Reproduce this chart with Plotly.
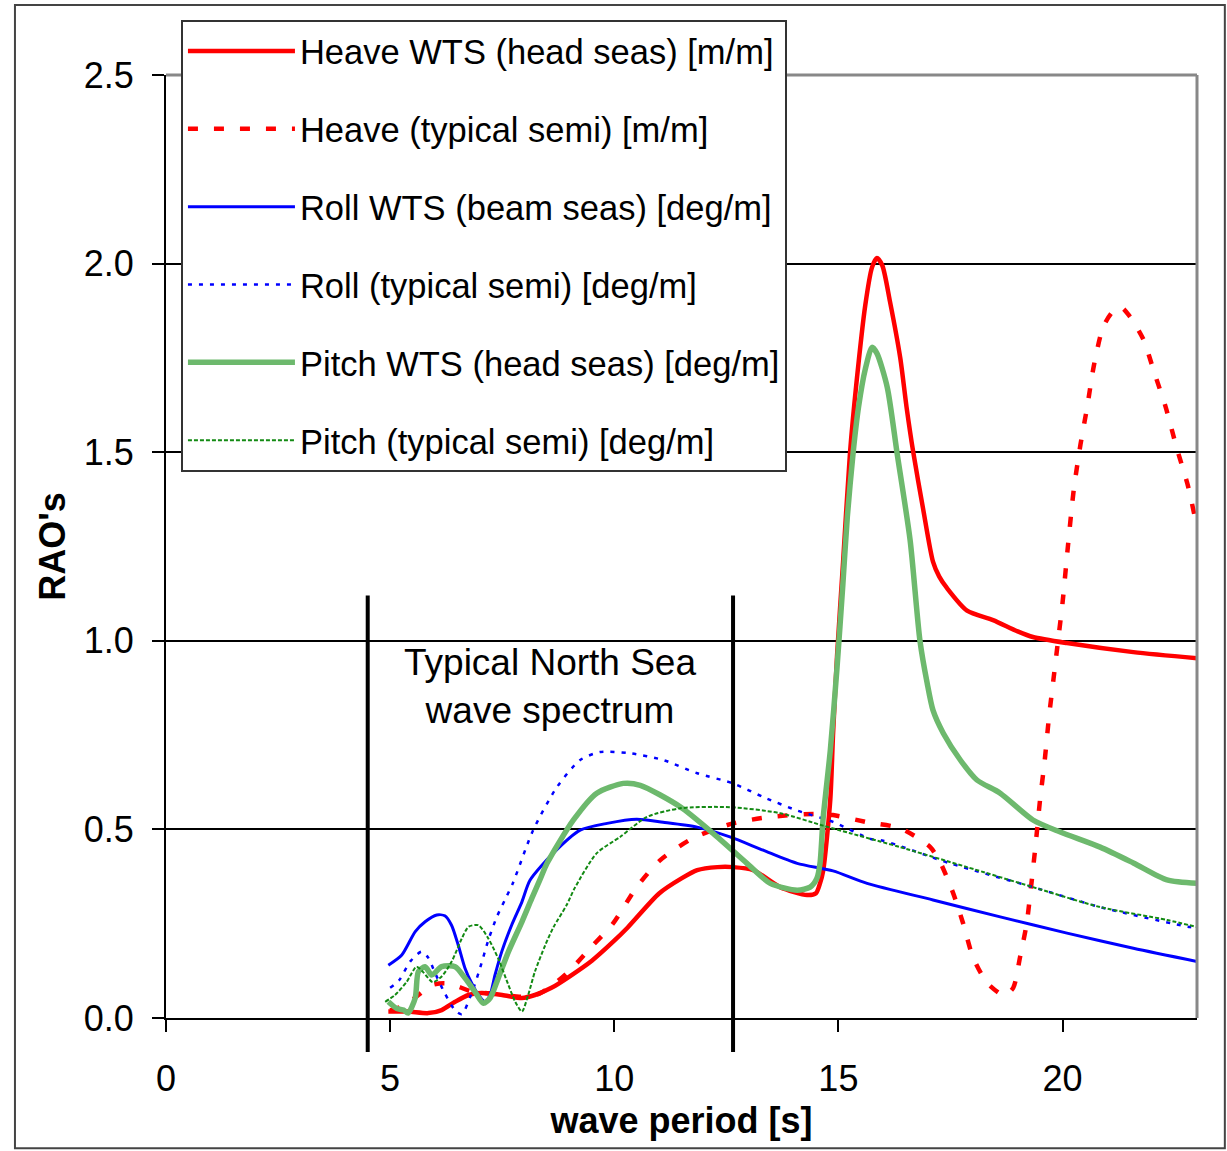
import plotly.graph_objects as go

# Heave RAO, WTS design in head seas [m/m]
heave_wts_T = [4.96, 5.4, 5.85, 6.15, 6.45, 6.75, 7.04, 7.5, 7.94, 8.23, 8.6, 9.0, 9.5,
               10.0, 10.3, 11.0, 11.5, 11.85, 12.3, 12.65, 13.1, 13.7, 14.3, 14.5, 14.59,
               14.66, 14.82, 14.88, 14.97, 15.1, 15.26, 15.4, 15.6, 15.75, 15.86, 15.98,
               16.15, 16.38, 16.52, 16.67, 16.89, 17.11, 17.25, 17.42, 17.87, 18.45,
               19.0, 19.34, 20.1, 21.58, 23.0]
heave_wts = [0.017, 0.017, 0.013, 0.021, 0.043, 0.061, 0.066, 0.061, 0.053, 0.061, 0.08,
             0.11, 0.152, 0.205, 0.24, 0.33, 0.37, 0.392, 0.40, 0.40, 0.392, 0.347, 0.326,
             0.331, 0.357, 0.39, 0.58, 0.75, 0.96, 1.2, 1.5, 1.68, 1.89, 1.99, 2.015, 1.995,
             1.9, 1.75, 1.62, 1.5, 1.35, 1.21, 1.17, 1.14, 1.08, 1.055, 1.025, 1.01,
             0.994, 0.97, 0.954]

# Heave RAO, typical semi-submersible [m/m]
heave_semi_T = [5.0, 5.33, 5.63, 5.93, 6.22, 6.52, 6.82, 7.12, 7.5, 8.0, 8.3, 8.6, 9.0,
                9.5, 9.97, 10.5, 11.02, 11.76, 12.65, 13.48, 14.44, 14.88, 15.64, 16.38,
                17.05, 17.27, 17.56, 17.78, 18.0, 18.32, 18.7, 18.9, 19.05, 19.2, 19.3,
                19.4, 19.5, 19.6, 19.7, 19.8, 19.9, 20.0, 20.12, 20.25, 20.4, 20.55, 20.7,
                20.9, 21.1, 21.3, 21.5, 21.8, 22.05, 22.3, 22.55, 22.8, 23.0]
heave_semi = [0.02, 0.034, 0.061, 0.087, 0.092, 0.083, 0.07, 0.066, 0.062, 0.056, 0.063,
              0.085, 0.125, 0.19, 0.25, 0.347, 0.418, 0.477, 0.516, 0.533, 0.541, 0.538,
              0.519, 0.503, 0.453, 0.413, 0.331, 0.252, 0.162, 0.093, 0.06, 0.08, 0.16,
              0.25, 0.35, 0.46, 0.58, 0.68, 0.8, 0.9, 1.0, 1.1, 1.25, 1.4, 1.52, 1.62,
              1.73, 1.83, 1.87, 1.885, 1.86, 1.8, 1.71, 1.62, 1.51, 1.41, 1.3]

# Roll RAO, WTS design in beam seas [deg/m]
roll_wts_T = [4.96, 5.26, 5.56, 5.78, 6.04, 6.22, 6.37, 6.52, 6.67, 6.82, 6.97, 7.12,
              7.23, 7.34, 7.49, 7.71, 7.94, 8.12, 8.64, 9.24, 9.84, 10.5, 11.09, 11.85,
              12.58, 13.32, 14.08, 14.88, 15.64, 17.11, 18.61, 20.1, 21.58, 23.0]
roll_wts = [0.14, 0.167, 0.229, 0.255, 0.273, 0.271, 0.246, 0.193, 0.132, 0.092, 0.061,
            0.043, 0.061, 0.114, 0.176, 0.246, 0.308, 0.365, 0.437, 0.498, 0.516, 0.527,
            0.519, 0.506, 0.48, 0.445, 0.41, 0.39, 0.357, 0.313, 0.268, 0.225, 0.185, 0.15]

# Roll RAO, typical semi-submersible [deg/m]
roll_semi_T = [5.0, 5.2, 5.45, 5.7, 5.85, 6.0, 6.2, 6.45, 6.6, 6.8, 7.0, 7.2, 7.38, 7.56,
               7.74, 8.19, 8.72, 9.24, 9.68, 10.35, 11.09, 11.85, 12.65, 13.32, 14.08,
               14.88, 15.71, 16.0, 17.49, 19.34, 20.84, 22.85, 23.0]
roll_semi = [0.08, 0.10, 0.15, 0.176, 0.16, 0.12, 0.07, 0.02, 0.01, 0.06, 0.13, 0.21,
             0.268, 0.313, 0.358, 0.498, 0.612, 0.684, 0.705, 0.702, 0.684, 0.649, 0.622,
             0.586, 0.55, 0.52, 0.475, 0.47, 0.41, 0.347, 0.294, 0.241, 0.24]

# Pitch RAO, WTS design in head seas [deg/m]
pitch_wts_T = [4.96, 5.15, 5.3, 5.4, 5.56, 5.63, 5.78, 5.93, 6.15, 6.45, 6.67, 6.89, 7.08,
               7.23, 7.41, 7.64, 7.94, 8.16, 8.34, 8.5, 9.09, 9.61, 10.2, 10.58, 11.47,
               12.2, 12.96, 13.48, 14.08, 14.37, 14.52, 14.59, 14.66, 14.82, 14.97, 15.1,
               15.2, 15.33, 15.45, 15.6, 15.75, 15.86, 16.09, 16.31, 16.6, 16.82, 16.98,
               17.11, 17.34, 17.72, 18.09, 18.61, 19.34, 19.95, 20.84, 21.58, 22.33, 23.0]
pitch_wts = [0.043, 0.025, 0.021, 0.013, 0.053, 0.123, 0.136, 0.114, 0.136, 0.136, 0.106,
             0.07, 0.039, 0.053, 0.105, 0.176, 0.255, 0.317, 0.366, 0.41, 0.525, 0.596,
             0.622, 0.617, 0.56, 0.49, 0.41, 0.357, 0.339, 0.347, 0.37, 0.41, 0.53, 0.71,
             0.93, 1.15, 1.33, 1.5, 1.62, 1.72, 1.778, 1.762, 1.672, 1.497, 1.267, 1.0,
             0.888, 0.816, 0.755, 0.684, 0.631, 0.596, 0.525, 0.493, 0.453, 0.411, 0.366,
             0.357]

# Pitch RAO, typical semi-submersible [deg/m]
pitch_semi_T = [4.89, 5.11, 5.37, 5.59, 5.75, 5.95, 6.15, 6.37, 6.6, 6.75, 6.97, 7.19,
                7.41, 7.64, 7.79, 7.94, 8.08, 8.23, 8.46, 8.64, 8.94, 9.12, 9.61, 10.13,
                10.73, 11.47, 12.58, 13.7, 14.66, 15.26, 15.93, 16.38, 17.87, 19.34, 20.84,
                22.33, 23.0]
pitch_semi = [0.043, 0.061, 0.096, 0.136, 0.12, 0.095, 0.11, 0.149, 0.211, 0.242, 0.246,
              0.211, 0.158, 0.087, 0.043, 0.017, 0.061, 0.123, 0.193, 0.24, 0.30, 0.345,
              0.437, 0.48, 0.533, 0.556, 0.559, 0.543, 0.51, 0.49, 0.468, 0.453, 0.40,
              0.347, 0.294, 0.26, 0.241]

# Wave-period band of a typical North Sea spectrum [s] and marker line extent [RAO]
spectrum_bounds = [4.5, 12.65]
spectrum_line_extent = [-0.09, 1.12]
spectrum_label = "Typical North Sea<br>wave spectrum"
spectrum_label_pos = (8.57, 0.88)

x_ticks = [0, 5, 10, 15, 20]
y_ticks = [0.0, 0.5, 1.0, 1.5, 2.0, 2.5]
x_range = [0, 23]
y_range = [0, 2.5]

FONT = "Arial, 'Liberation Sans', sans-serif"

series = [
    ("Heave WTS (head seas) [m/m]", heave_wts_T, heave_wts,
     dict(color="#FF0000", width=4.5)),
    ("Heave (typical semi) [m/m]", heave_semi_T, heave_semi,
     dict(color="#FF0000", width=4.5, dash="10px,16px")),
    ("Roll WTS (beam seas) [deg/m]", roll_wts_T, roll_wts,
     dict(color="#0000FF", width=3)),
    ("Roll (typical semi) [deg/m]", roll_semi_T, roll_semi,
     dict(color="#0000FF", width=2.5, dash="4px,7px")),
    ("Pitch WTS (head seas) [deg/m]", pitch_wts_T, pitch_wts,
     dict(color="#6DB96D", width=5.5)),
    ("Pitch (typical semi) [deg/m]", pitch_semi_T, pitch_semi,
     dict(color="#138A13", width=2, dash="4px,2px")),
]

fig = go.Figure()
for i, (name, xs, ys, line) in enumerate(series):
    fig.add_trace(go.Scatter(
        x=xs, y=ys, name=name, mode="lines",
        line=dict(shape="spline", smoothing=0.7, **line),
        legendgroup=f"g{i}",
    ))

# vertical markers bounding the spectrum band (allowed to run below the axis)
span = y_range[1] - y_range[0]
for xb in spectrum_bounds:
    fig.add_shape(type="line", xref="x", yref="y domain",
                  x0=xb, x1=xb,
                  y0=(spectrum_line_extent[0] - y_range[0]) / span,
                  y1=(spectrum_line_extent[1] - y_range[0]) / span,
                  line=dict(color="black", width=4), layer="above")

fig.add_annotation(x=spectrum_label_pos[0], y=spectrum_label_pos[1],
                   text=spectrum_label, showarrow=False,
                   font=dict(family=FONT, size=37, color="black"))

# grey top/right border of the plotting area
fig.add_shape(type="line", xref="paper", yref="paper", x0=0, x1=1, y0=1, y1=1,
              line=dict(color="#888888", width=3), layer="above")
fig.add_shape(type="line", xref="paper", yref="paper", x0=1, x1=1, y0=0, y1=1,
              line=dict(color="#888888", width=3), layer="above")

# outer frame of the chart
fig.add_shape(type="rect", xref="paper", yref="paper",
              x0=-0.1465, x1=1.027, y0=-0.138, y1=1.0742,
              line=dict(color="#444444", width=2), layer="below")

fig.update_layout(
    width=1227, height=1151,
    margin=dict(l=166, r=30, t=75, b=133),
    paper_bgcolor="white", plot_bgcolor="white",
    font=dict(family=FONT, size=36, color="black"),
    showlegend=True,
    legend=dict(
        x=0.0145, y=1.0583, xanchor="left", yanchor="top",
        bgcolor="white", bordercolor="#333333", borderwidth=2,
        font=dict(family=FONT, size=34.5, color="black"),
        itemwidth=107, tracegroupgap=30, traceorder="grouped",
    ),
    xaxis=dict(
        range=x_range, tickvals=x_ticks, ticktext=[str(v) for v in x_ticks],
        showgrid=False, zeroline=False,
        showline=True, linecolor="black", linewidth=2,
        ticks="outside", ticklen=12, tickwidth=2, tickcolor="black",
        ticklabelstandoff=16,
        tickfont=dict(family=FONT, size=36),
        title=dict(text="<b>wave period [s]</b>", font=dict(family=FONT, size=36),
                   standoff=10),
    ),
    yaxis=dict(
        range=y_range, tickvals=y_ticks, ticktext=[f"{v:.1f}" for v in y_ticks],
        showgrid=True, gridcolor="black", gridwidth=1.5, zeroline=False,
        showline=True, linecolor="black", linewidth=2,
        ticks="outside", ticklen=12, tickwidth=2, tickcolor="black",
        ticklabelstandoff=11,
        tickfont=dict(family=FONT, size=36),
        title=dict(text="<b>RAO's</b>", font=dict(family=FONT, size=36), standoff=7),
    ),
)

fig.write_html("out.html")
